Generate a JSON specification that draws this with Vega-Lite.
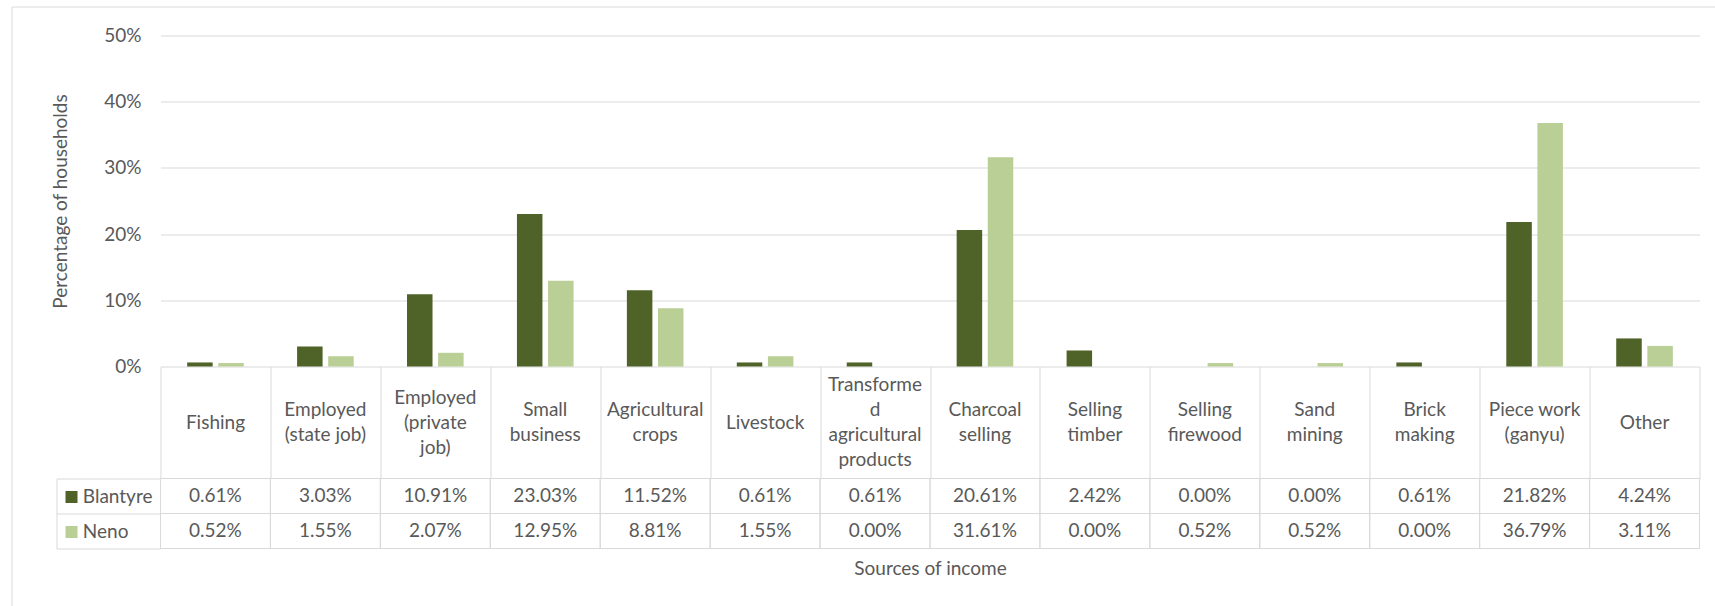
{
  "$schema": "https://vega.github.io/schema/vega-lite/v6.json",
  "width": 1703.5,
  "height": 599.5,
  "autosize": "none",
  "padding": {"left": 11.5, "top": 6.5, "right": 0, "bottom": 0},
  "data": {
    "values": [
      {"category": "Fishing", "series": "Blantyre", "value": 0.0061},
      {"category": "Fishing", "series": "Neno", "value": 0.0052},
      {"category": "Employed (state job)", "series": "Blantyre", "value": 0.0303},
      {"category": "Employed (state job)", "series": "Neno", "value": 0.0155},
      {"category": "Employed (private job)", "series": "Blantyre", "value": 0.1091},
      {"category": "Employed (private job)", "series": "Neno", "value": 0.0207},
      {"category": "Small business", "series": "Blantyre", "value": 0.2303},
      {"category": "Small business", "series": "Neno", "value": 0.1295},
      {"category": "Agricultural crops", "series": "Blantyre", "value": 0.1152},
      {"category": "Agricultural crops", "series": "Neno", "value": 0.0881},
      {"category": "Livestock", "series": "Blantyre", "value": 0.0061},
      {"category": "Livestock", "series": "Neno", "value": 0.0155},
      {"category": "Transformed agricultural products", "series": "Blantyre", "value": 0.0061},
      {"category": "Transformed agricultural products", "series": "Neno", "value": 0.0},
      {"category": "Charcoal selling", "series": "Blantyre", "value": 0.2061},
      {"category": "Charcoal selling", "series": "Neno", "value": 0.3161},
      {"category": "Selling timber", "series": "Blantyre", "value": 0.0242},
      {"category": "Selling timber", "series": "Neno", "value": 0.0},
      {"category": "Selling firewood", "series": "Blantyre", "value": 0.0},
      {"category": "Selling firewood", "series": "Neno", "value": 0.0052},
      {"category": "Sand mining", "series": "Blantyre", "value": 0.0},
      {"category": "Sand mining", "series": "Neno", "value": 0.0052},
      {"category": "Brick making", "series": "Blantyre", "value": 0.0061},
      {"category": "Brick making", "series": "Neno", "value": 0.0},
      {"category": "Piece work (ganyu)", "series": "Blantyre", "value": 0.2182},
      {"category": "Piece work (ganyu)", "series": "Neno", "value": 0.3679},
      {"category": "Other", "series": "Blantyre", "value": 0.0424},
      {"category": "Other", "series": "Neno", "value": 0.0311}
    ]
  },
  "layer": [
    {
      "mark": {"type": "bar"},
      "encoding": {
        "x": {
          "field": "category",
          "type": "nominal",
          "sort": null,
          "title": "Sources of income",
          "scale": {"range": [149, 1688], "paddingInner": 0, "paddingOuter": 0}
        },
        "xOffset": {
          "field": "series",
          "type": "nominal",
          "scale": {"domain": ["Blantyre", "Neno"], "paddingInner": 0.18, "paddingOuter": 0.857}
        },
        "y": {
          "field": "value",
          "type": "quantitative",
          "scale": {"domain": [0, 0.5], "range": [360, 29], "nice": false, "zero": true},
          "axis": {
            "orient": "left",
            "offset": -149,
            "values": [0, 0.1, 0.2, 0.3, 0.4, 0.5],
            "format": ".0%",
            "grid": true,
            "gridColor": "#D9D9D9",
            "gridWidth": 1,
            "domain": false,
            "ticks": false,
            "labelPadding": 19.5,
            "title": "Percentage of households",
            "titleX": -100.5,
            "titleY": 194.5,
            "titleBaseline": "middle"
          }
        },
        "color": {
          "field": "series",
          "type": "nominal",
          "scale": {"domain": ["Blantyre", "Neno"], "range": ["#4F6228", "#BACF96"]},
          "legend": null
        }
      }
    },
    {
      "transform": [{"filter": "datum.series === 'Blantyre'"}],
      "mark": {
        "type": "text",
        "align": "center",
        "baseline": "middle",
        "fontSize": 19,
        "lineHeight": 25,
        "color": "#595959",
        "text": {"expr": "datum.category == 'Employed (state job)' ? ['Employed', '(state job)'] : datum.category == 'Piece work (ganyu)' ? ['Piece work', '(ganyu)'] : datum.category == 'Transformed agricultural products' ? ['Transforme', 'd', 'agricultural', 'products'] : split(datum.category, ' ')"},
        "dy": {"expr": "-12.5 * (length(datum.category == 'Employed (state job)' ? ['Employed', '(state job)'] : datum.category == 'Piece work (ganyu)' ? ['Piece work', '(ganyu)'] : datum.category == 'Transformed agricultural products' ? ['Transforme', 'd', 'agricultural', 'products'] : split(datum.category, ' ')) - 1)"}
      },
      "encoding": {
        "x": {
          "field": "category",
          "type": "nominal",
          "sort": null,
          "title": "Sources of income",
          "scale": {"range": [149, 1688], "paddingInner": 0, "paddingOuter": 0}
        },
        "y": {
          "datum": "header",
          "type": "nominal",
          "scale": {"domain": ["header"], "range": [360, 472], "paddingInner": 0, "paddingOuter": 0},
          "axis": null
        }
      }
    },
    {
      "mark": {"type": "rect", "fill": "transparent", "stroke": "#D9D9D9", "strokeWidth": 1},
      "encoding": {
        "x": {
          "field": "category",
          "type": "nominal",
          "sort": null,
          "title": "Sources of income",
          "scale": {"range": [149, 1688], "paddingInner": 0, "paddingOuter": 0}
        },
        "y": {
          "field": "series",
          "type": "nominal",
          "scale": {"domain": ["Blantyre", "Neno"], "range": [472, 542], "paddingInner": 0, "paddingOuter": 0},
          "axis": {
            "orient": "left",
            "offset": -45,
            "domain": true,
            "domainColor": "#D9D9D9",
            "grid": false,
            "ticks": true,
            "tickBand": "extent",
            "tickSize": -104,
            "tickColor": "#D9D9D9",
            "tickWidth": 1,
            "labelAlign": "left",
            "labelBaseline": "middle",
            "labelPadding": 78.2,
            "labelAngle": 0,
            "title": null
          }
        }
      }
    },
    {
      "mark": {"type": "text", "align": "center", "baseline": "middle", "fontSize": 19, "color": "#595959"},
      "encoding": {
        "x": {
          "field": "category",
          "type": "nominal",
          "sort": null,
          "title": "Sources of income",
          "scale": {"range": [149, 1688], "paddingInner": 0, "paddingOuter": 0}
        },
        "y": {
          "field": "series",
          "type": "nominal",
          "scale": {"domain": ["Blantyre", "Neno"], "range": [472, 542], "paddingInner": 0, "paddingOuter": 0},
          "axis": {
            "orient": "left",
            "offset": -65.5,
            "domain": false,
            "grid": false,
            "labels": false,
            "ticks": true,
            "tickSize": 12,
            "tickWidth": 12,
            "tickColor": {"condition": {"test": "datum.value === 'Blantyre'", "value": "#4F6228"}, "value": "#BACF96"},
            "title": null
          }
        },
        "text": {"field": "value", "type": "quantitative", "format": ".2%"}
      }
    }
  ],
  "resolve": {"scale": {"y": "independent"}, "axis": {"y": "independent"}},
  "config": {
    "font": "Lato",
    "background": "#FFFFFF",
    "view": {"stroke": "#D9D9D9", "strokeWidth": 1},
    "axis": {
      "labelFont": "Lato",
      "labelFontSize": 19,
      "labelColor": "#595959",
      "titleFont": "Lato",
      "titleFontSize": 19,
      "titleFontWeight": "normal",
      "titleColor": "#595959"
    },
    "axisX": {
      "orient": "bottom",
      "offset": -239.5,
      "domain": false,
      "grid": false,
      "labels": false,
      "ticks": true,
      "tickBand": "extent",
      "tickSize": 112,
      "tickColor": "#D9D9D9",
      "tickWidth": 1,
      "titleY": 201.5,
      "titleBaseline": "middle"
    }
  }
}
